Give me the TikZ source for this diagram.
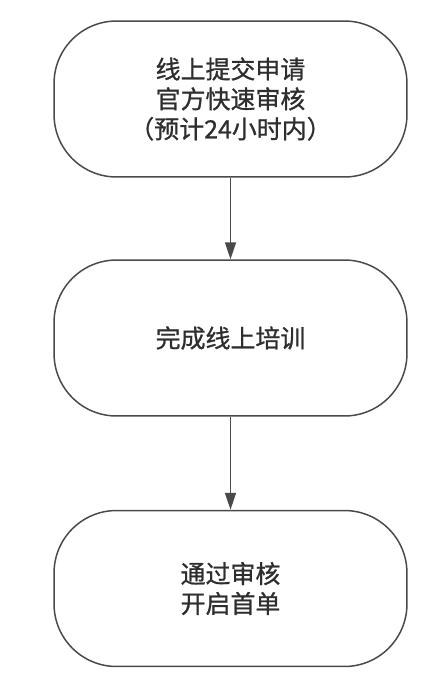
\documentclass[tikz,border=0pt]{standalone}
\usepackage{fontspec}
\usepackage{xcolor}
\usetikzlibrary{arrows.meta}
\newfontfamily\cjk[FakeBold=0.9]{Noto Sans CJK SC}
\definecolor{linegray}{HTML}{4A4A4A}
\definecolor{textgray}{HTML}{2E2E2E}

\begin{document}
\begin{tikzpicture}[x=0.02cm,y=-0.02cm,
    stepbox/.style={draw=linegray, line width=0.85pt, rounded corners=1.25cm,
      minimum width=7.06cm, minimum height=3.12cm, align=center,
      text=textgray, font=\cjk\fontsize{14.2pt}{17pt}\selectfont},
    flow/.style={draw=linegray, line width=0.85pt,
      -{Triangle[length=0.34cm,width=0.22cm]}}]
      % Canvas
      \useasboundingbox (0,0) rectangle (445,680);

      % Steps
      \node[stepbox] (apply) at (230.5,99) {线上提交申请\\官方快速审核\\（预计24小时内）};
      \node[stepbox] (train) at (230.5,338) {完成线上培训};
      \node[stepbox] (open) at (230.5,588.5) {通过审核\\开启首单};

      % Arrows
      \draw[flow] (apply) -- (train);
      \draw[flow] (train) -- (open);
    \end{tikzpicture}
\end{document}
